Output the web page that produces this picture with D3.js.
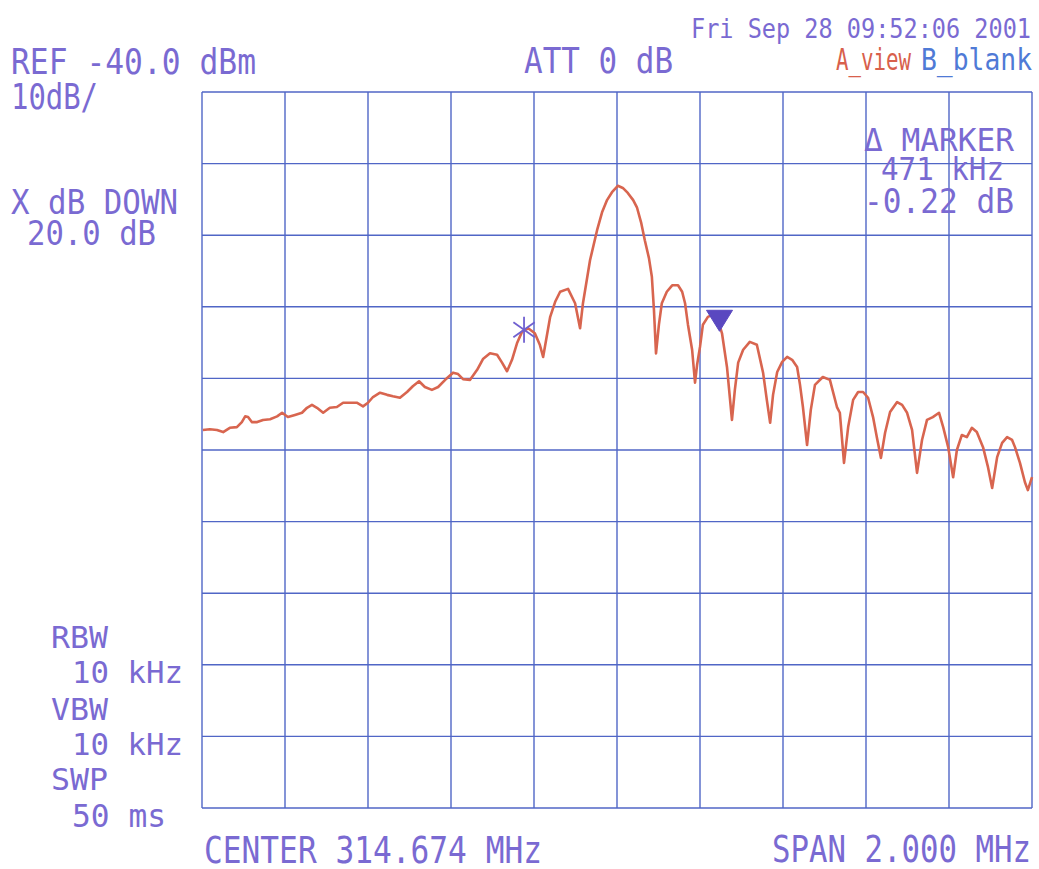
<!DOCTYPE html>
<html lang="en">
<head>
<meta charset="utf-8">
<title>Spectrum analyzer plot</title>
<script src="https://d3js.org/d3.v7.min.js"></script>
<style>
  html, body { margin: 0; padding: 0; background: #ffffff; }
  svg text { font-family: "DejaVu Sans Mono", monospace; }
</style>
</head>
<body>
<div id="chart"></div>
<script>

// Trace A: frequency offset from centre (kHz) and level (dBm)
const offsetKHz = [
  -998, -981, -964, -949, -933, -916, -904, -896, -889, -880,
  -867, -853, -836, -819, -807, -793, -776, -759, -747, -735,
  -723, -708, -692, -675, -660, -643, -627, -612, -600, -588,
  -571, -554, -540, -523, -506, -492, -477, -463, -446, -431,
  -414, -395, -383, -371, -354, -337, -323, -306, -289, -277,
  -265, -253, -241, -229, -214, -198, -186, -178, -161, -149,
  -137, -118, -101, -89, -82, -65, -48, -36, -24, -12,
  2, 14, 26, 39, 48, 58, 67, 77, 84, 89,
  94, 101, 108, 120, 133, 147, 157, 164, 171, 181,
  188, 193, 200, 207, 219, 231, 243, 253, 265, 277,
  284, 292, 304, 320, 337, 352, 361, 369, 376, 386,
  398, 410, 422, 434, 441, 448, 458, 467, 477, 496,
  513, 530, 537, 547, 557, 569, 581, 593, 605, 617,
  626, 636, 646, 658, 675, 687, 699, 711, 723, 735,
  747, 761, 776, 786, 798, 810, 819, 831, 843, 855,
  867, 882, 894, 904, 916, 928, 940, 952, 959, 971,
  983, 990, 1000
];
const levelDbm = [
  -87.2, -87.1, -87.2, -87.5, -86.9, -86.8, -86.1, -85.3, -85.4, -86.1,
  -86.1, -85.8, -85.7, -85.3, -84.8, -85.4, -85.1, -84.8, -84.1, -83.7,
  -84.1, -84.8, -84.1, -84.0, -83.4, -83.4, -83.4, -83.9, -83.4, -82.6,
  -82.0, -82.3, -82.5, -82.7, -81.9, -81.1, -80.4, -81.2, -81.6, -81.2,
  -80.2, -79.2, -79.4, -80.1, -80.2, -78.8, -77.3, -76.5, -76.7, -77.8,
  -79.0, -77.4, -75.1, -73.5, -73.0, -73.7, -75.3, -77.0, -71.4, -69.3,
  -67.9, -67.5, -69.5, -73.0, -69.5, -63.5, -59.3, -56.8, -55.1, -54.0,
  -53.1, -53.4, -54.1, -55.1, -56.1, -58.2, -60.7, -63.2, -65.8, -70.4,
  -76.5, -72.5, -69.5, -67.9, -67.0, -67.0, -67.9, -69.5, -72.5, -76.0,
  -80.6, -78.1, -75.6, -72.5, -71.4, -71.1, -71.8, -73.7, -78.4, -85.8,
  -81.6, -77.8, -76.0, -74.9, -75.3, -79.2, -83.0, -86.2, -82.3, -79.1,
  -77.7, -77.0, -77.4, -78.4, -80.9, -84.0, -89.3, -84.4, -80.9, -79.8,
  -80.2, -84.0, -84.8, -91.8, -86.8, -83.0, -81.9, -81.9, -82.7, -85.4,
  -88.2, -91.1, -87.6, -84.7, -83.3, -83.7, -84.8, -87.2, -93.2, -88.6,
  -85.8, -85.4, -84.8, -86.8, -89.6, -93.8, -90.0, -87.9, -88.2, -86.9,
  -87.5, -89.6, -92.4, -95.3, -91.0, -89.0, -88.2, -88.6, -89.6, -91.8,
  -94.5, -95.6, -93.8
];

// instrument settings
const refLevel = -40;     // dBm, top of screen
const dbPerDiv = 10;
const spanKHz = 2000;
const divisions = 10;

// marker (*) and delta marker (triangle)
const markerKHz = -224;
const markerDbm = -73.2;
const deltaKHz = 471;
const deltaDb = -0.22;

// screen texts
const annotations = [
  { t: "REF -40.0 dBm",            x: 11,  y: 74,  w: 245, fs: 35, c: "#7a6ad2" },
  { t: "10dB/",                    x: 11,  y: 109, w: 87,  fs: 35, c: "#7a6ad2" },
  { t: "X dB DOWN",                x: 11,  y: 214, w: 167, fs: 34, c: "#7a6ad2" },
  { t: "20.0 dB",                  x: 27,  y: 245, w: 129, fs: 34, c: "#7a6ad2" },
  { t: "Fri Sep 28 09:52:06 2001", x: 691, y: 38,  w: 340, fs: 26, c: "#7a6ad2" },
  { t: "ATT 0 dB",                 x: 524, y: 73,  w: 149, fs: 36, c: "#7a6ad2" },
  { t: "A_view",                   x: 836, y: 70,  w: 75,  fs: 31, c: "#d8604c" },
  { t: "B_blank",                  x: 921, y: 70,  w: 111, fs: 31, c: "#4f7ad6" },
  { t: "\u0394 MARKER",            x: 864, y: 151, w: 150, fs: 32, c: "#7a6ad2" },
  { t: "471 kHz",                  x: 881, y: 180, w: 123, fs: 32, c: "#7a6ad2" },
  { t: "-0.22 dB",                 x: 864, y: 213, w: 150, fs: 34, c: "#7a6ad2" },
  { t: "RBW",                      x: 51,  y: 648, w: 57,  fs: 31, c: "#7a6ad2" },
  { t: "10 kHz",                   x: 72,  y: 683, w: 111, fs: 31, c: "#7a6ad2" },
  { t: "VBW",                      x: 51,  y: 720, w: 57,  fs: 31, c: "#7a6ad2" },
  { t: "10 kHz",                   x: 72,  y: 755, w: 111, fs: 31, c: "#7a6ad2" },
  { t: "SWP",                      x: 51,  y: 790, w: 57,  fs: 31, c: "#7a6ad2" },
  { t: "50 ms",                    x: 72,  y: 827, w: 94,  fs: 32, c: "#7a6ad2" },
  { t: "CENTER 314.674 MHz",       x: 204, y: 863, w: 338, fs: 37, c: "#7a6ad2" },
  { t: "SPAN 2.000 MHz",           x: 772, y: 862, w: 259, fs: 37, c: "#7a6ad2" }
];

var W = 1039, H = 869;
var plot = { left: 202, right: 1032, top: 92, bottom: 808 };

var svg = d3.select("#chart")
  .append("svg")
    .attr("width", W)
    .attr("height", H);

var x = d3.scaleLinear()
  .domain([-spanKHz / 2, spanKHz / 2])
  .range([plot.left, plot.right]);
var y = d3.scaleLinear()
  .domain([refLevel - dbPerDiv * divisions, refLevel])
  .range([plot.bottom, plot.top]);

var gridColor = "#5066c6";

// graticule
svg.append("g").selectAll("line")
  .data(x.ticks(divisions)).enter().append("line")
    .attr("x1", function(d) { return x(d); })
    .attr("x2", function(d) { return x(d); })
    .attr("y1", plot.top)
    .attr("y2", plot.bottom)
    .attr("stroke", gridColor)
    .attr("stroke-width", 1.4);
svg.append("g").selectAll("line")
  .data(y.ticks(divisions)).enter().append("line")
    .attr("x1", plot.left)
    .attr("x2", plot.right)
    .attr("y1", function(d) { return y(d); })
    .attr("y2", function(d) { return y(d); })
    .attr("stroke", gridColor)
    .attr("stroke-width", 1.4);

// trace A
var trace = offsetKHz.map(function(f, i) { return { f: f, v: levelDbm[i] }; });
svg.append("path")
  .datum(trace)
  .attr("fill", "none")
  .attr("stroke", "#d8654f")
  .attr("stroke-width", 2.6)
  .attr("stroke-linejoin", "round")
  .attr("d", d3.line()
    .x(function(d) { return x(d.f); })
    .y(function(d) { return y(d.v); }));

// reference marker: asterisk
var mx = x(markerKHz), my = y(markerDbm), r = 13;
svg.append("g").selectAll("line")
  .data([90, 35, 145]).enter().append("line")
    .attr("x1", function(a) { return mx + r * Math.cos(a * Math.PI / 180); })
    .attr("y1", function(a) { return my - r * Math.sin(a * Math.PI / 180); })
    .attr("x2", function(a) { return mx - r * Math.cos(a * Math.PI / 180); })
    .attr("y2", function(a) { return my + r * Math.sin(a * Math.PI / 180); })
    .attr("stroke", "#7060d0")
    .attr("stroke-width", 1.8);

// delta marker: filled triangle pointing at the trace
var dx = x(markerKHz + deltaKHz), dy = y(markerDbm + deltaDb);
svg.append("path")
  .attr("d", "M" + (dx - 13) + "," + (dy - 21) + "L" + (dx + 13) + "," + (dy - 21) + "L" + dx + "," + dy + "Z")
  .attr("fill", "#5a48c0")
  .attr("stroke", "#5a48c0")
  .attr("stroke-width", 1);

// texts
svg.append("g").selectAll("text")
  .data(annotations).enter().append("text")
    .attr("x", function(d) { return d.x; })
    .attr("y", function(d) { return d.y; })
    .attr("font-size", function(d) { return d.fs + "px"; })
    .attr("textLength", function(d) { return d.w; })
    .attr("lengthAdjust", "spacingAndGlyphs")
    .attr("fill", function(d) { return d.c; })
    .text(function(d) { return d.t; });

</script>
</body>
</html>
